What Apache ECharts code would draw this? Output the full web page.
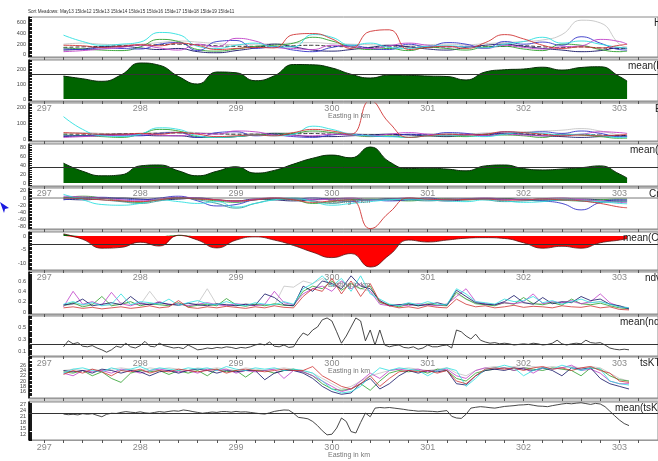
<!DOCTYPE html>
<html><head><meta charset="utf-8">
<script src="https://cdn.jsdelivr.net/npm/echarts@6/dist/echarts.min.js"></script>
<style>html,body{margin:0;padding:0;background:#fff}#c{width:658px;height:461px}</style>
</head><body><div id="c"></div><script>
// ---------- tick labels ----------
const xTickLabels = [297,298,299,300,301,302,303];
const hTicks = [0,200,400,600];
const mhTicks = [0,100,200];
const eTicks = [0,100,200];
const meTicks = [0,20,40,60,80];
const cmTicks = [20,0,-20,-40,-60,-80];
const mcmTicks = [0,-5,-10];
const ndviTicks = [0,0.2,0.4,0.6];
const mndviTicks = [0.1,0.3,0.5];
const tsTicks = [14,16,18,20,22,24,26,28];
const mtsTicks = [12,15,18,21,24,27];
const panelNames = ["H","mean(H)","E","mean(E)","Cm","mean(Cm)","ndvi","mean(ndvi)","tsKTa","mean(tsKTa)"];
const titleText = "Sort Meadows: May13 15Ide12 15Ide13 15Ide14 15Ide15 15Ide16 15Ide17 15Ide18 15Ide19 15Ide11";

// ---------- x positions (km) ----------
const xSmooth = []; for (let i=0;i<30;i++) xSmooth.push(+(297.2+0.2*i).toFixed(2)); xSmooth.push(303.08);
const xNoisy = []; for (let i=0;i<60;i++) xNoisy.push(+(297.2+0.1*i).toFixed(2));
const xMean = []; for (let i=0;i<119;i++) xMean.push(+(297.2+0.05*i).toFixed(2));

// ---------- H ----------
const H_cyan = [370,250,180,200,240,420,380,160,120,180,220,150,150,380,330,180,220,140,120,160,170,150,130,200,250,330,220,260,200,140,130];
const H_red = [180,170,140,160,190,170,220,180,100,120,140,130,380,400,300,120,440,470,100,140,160,120,230,380,300,180,120,150,130,180,200];
const H_green = [130,110,90,80,150,290,250,100,70,110,160,180,220,330,260,150,100,120,80,140,120,90,150,160,110,80,200,180,100,60,70];
const H_blue = [110,100,130,120,110,200,230,80,250,270,120,150,90,60,140,180,120,100,200,150,230,200,120,250,200,240,180,340,220,100,90];
const H_magenta = [60,80,110,140,180,130,90,200,150,310,260,140,120,100,180,150,120,170,220,180,150,160,120,180,140,110,150,170,290,250,200];
const H_navy = [90,110,150,160,130,100,120,60,40,80,130,200,150,90,70,100,140,180,150,110,90,140,180,200,160,120,90,60,80,130,120];
const H_black = [140,150,160,170,180,190,200,190,170,160,160,150,170,180,160,150,140,150,150,140,150,160,150,160,170,150,140,150,130,120,120];
const H_gray = [200,220,200,190,200,230,260,240,210,190,200,210,220,230,210,200,190,180,170,190,200,190,210,230,250,280,380,650,600,200,150];
const meanH = [153,135,118,160,240,225,150,100,180,175,122,155,230,228,207,165,140,160,158,153,150,127,180,195,200,212,193,210,215,150,120];
const meanHLevel = 167;

// ---------- E ----------
const E_cyan = [140,60,20,15,30,70,60,20,10,15,25,20,30,80,60,30,20,15,10,20,25,20,15,30,40,35,25,30,20,10,10];
const E_red = [40,35,30,30,35,30,40,30,15,20,25,20,40,60,50,30,240,100,10,20,30,25,30,45,40,30,20,25,20,25,30];
const E_green = [25,20,15,10,30,60,50,15,10,15,25,30,35,50,40,25,15,20,10,20,20,15,25,25,20,10,30,25,15,5,5];
const E_blue = [20,20,25,20,20,35,40,10,40,45,20,25,15,10,25,30,20,15,30,25,40,35,20,45,40,45,35,50,35,15,15];
const E_magenta = [10,15,20,25,30,25,20,35,30,50,45,25,20,20,30,25,20,30,40,30,25,30,20,30,25,20,25,30,45,40,35];
const E_navy = [15,20,25,30,25,20,20,10,10,15,25,35,25,15,15,20,25,30,25,20,15,25,30,35,30,20,15,10,15,20,20];
const E_black = [30,30,30,32,34,36,38,35,32,30,30,28,32,34,30,28,26,28,28,26,28,30,28,30,32,28,26,28,25,22,22];
const E_gray = [35,40,35,30,35,40,45,40,35,30,35,38,40,42,38,35,30,30,28,32,35,32,38,42,45,50,55,65,50,25,20];
const meanE = [44,26,16,18,38,40,27,16,26,36,22,28,42,55,62,56,80,47,32,33,31,27,38,40,32,29,31,34,38,20,11];
const meanELevel = 35;

// ---------- Cm ----------
const Cm_cyan = [10,-5,-18,-20,-15,-5,-10,-15,-10,-25,-15,-5,0,-10,-20,-15,-10,-5,-3,-5,-8,-10,-5,-8,-12,-10,-5,-8,-10,-15,-16];
const Cm_red = [0,-2,-5,-8,-10,-5,0,-3,-5,-8,-5,0,-5,-12,-8,-5,-85,-40,0,-3,-5,-4,-3,-6,-5,-3,-5,-8,-15,-25,-27];
const Cm_green = [0,5,0,-8,-12,-5,0,-3,-8,-12,-5,-3,-5,-15,-10,-5,-3,-5,-8,-4,-2,-5,-3,-2,-5,-3,-6,-8,-5,-3,-3];
const Cm_blue = [-5,0,2,-2,-5,0,5,-8,-22,-18,-5,-2,-3,0,-5,-10,-5,-8,-5,0,-5,-3,-2,-5,-3,-8,-15,-33,-12,-5,-5];
const Cm_magenta = [5,3,0,-5,-8,-3,2,0,-5,-10,-3,0,-2,-5,-3,0,-5,-3,0,-5,-3,-2,0,-3,-5,-2,0,-5,-8,-12,-13];
const Cm_navy = [-3,-5,-2,0,-3,-5,-3,0,-5,-8,-3,-5,-8,-5,-2,-3,-5,-2,-3,-5,-8,-5,-3,-2,-5,-8,-5,-3,-5,-8,-8];
const Cm_teal = [2,0,-5,-10,-15,-8,0,-5,-15,-28,-15,-5,-3,-8,-15,-8,-5,-3,-5,-8,-5,-3,-5,-10,-8,-5,-3,-8,-12,-10,-10];
const meanCm = [0.8,-1.2,-4.5,-4.2,-2.3,-3.7,0.3,-1.5,-4.4,-1.5,-0.3,-1.5,-3.5,-6,-8,-6.5,-11.5,-7,-1.5,-2.2,-1.5,-0.8,-0.6,-0.9,-2.5,-4.5,-3.8,-4.5,-2.5,-1.5,-1];
const meanCmLevel = -3;

// ---------- ndvi ----------
const N_red = [0.08,0.10,0.07,0.09,0.06,0.08,0.10,0.07,0.09,0.12,0.08,0.10,0.22,0.09,0.07,0.10,0.08,0.11,0.09,0.07,0.10,0.08,0.12,0.09,0.08,0.30,0.45,0.40,0.65,0.35,0.60,0.30,0.55,0.20,0.12,0.08,0.10,0.07,0.12,0.09,0.08,0.25,0.15,0.10,0.12,0.08,0.10,0.13,0.09,0.11,0.10,0.08,0.12,0.10,0.09,0.12,0.08,0.10,0.05,0.04];
const N_cyan = [0.15,0.20,0.14,0.18,0.12,0.15,0.35,0.14,0.20,0.18,0.15,0.25,0.13,0.18,0.22,0.16,0.14,0.20,0.15,0.12,0.18,0.15,0.14,0.20,0.15,0.45,0.55,0.70,0.50,0.65,0.40,0.70,0.35,0.25,0.15,0.12,0.18,0.14,0.20,0.15,0.14,0.45,0.35,0.20,0.18,0.15,0.25,0.20,0.22,0.30,0.18,0.22,0.15,0.20,0.25,0.18,0.20,0.15,0.10,0.08];
const N_green = [0.12,0.18,0.10,0.14,0.30,0.12,0.15,0.20,0.12,0.16,0.14,0.12,0.18,0.10,0.13,0.15,0.12,0.26,0.14,0.11,0.15,0.12,0.16,0.13,0.12,0.40,0.50,0.45,0.60,0.42,0.55,0.45,0.50,0.18,0.14,0.10,0.15,0.12,0.16,0.13,0.12,0.38,0.25,0.16,0.14,0.12,0.18,0.15,0.28,0.16,0.14,0.18,0.13,0.25,0.16,0.14,0.17,0.12,0.08,0.06];
const N_navy = [0.14,0.16,0.25,0.12,0.15,0.18,0.14,0.30,0.16,0.14,0.18,0.15,0.13,0.17,0.14,0.12,0.16,0.14,0.12,0.15,0.13,0.35,0.28,0.14,0.12,0.50,0.40,0.60,0.55,0.45,0.70,0.50,0.45,0.22,0.12,0.14,0.16,0.12,0.14,0.18,0.13,0.42,0.30,0.18,0.15,0.14,0.20,0.32,0.18,0.15,0.28,0.16,0.20,0.18,0.30,0.22,0.25,0.15,0.12,0.06];
const N_magenta = [0.10,0.40,0.15,0.20,0.13,0.38,0.16,0.12,0.18,0.14,0.20,0.14,0.16,0.12,0.15,0.18,0.14,0.12,0.16,0.14,0.12,0.15,0.40,0.18,0.14,0.35,0.45,0.50,0.40,0.60,0.45,0.55,0.40,0.15,0.12,0.14,0.12,0.16,0.14,0.12,0.15,0.30,0.45,0.20,0.16,0.14,0.18,0.16,0.20,0.35,0.16,0.20,0.18,0.22,0.16,0.20,0.35,0.18,0.10,0.07];
const N_gray = [0.12,0.15,0.13,0.16,0.14,0.13,0.18,0.15,0.14,0.40,0.16,0.15,0.14,0.13,0.16,0.45,0.14,0.15,0.13,0.16,0.15,0.14,0.13,0.50,0.48,0.60,0.55,0.65,0.50,0.60,0.50,0.45,0.40,0.20,0.15,0.14,0.16,0.15,0.14,0.13,0.16,0.35,0.25,0.18,0.16,0.15,0.17,0.16,0.18,0.17,0.16,0.18,0.17,0.20,0.16,0.18,0.20,0.16,0.12,0.08];
const meanNdvi = [0.17,0.27,0.22,0.24,0.18,0.17,0.19,0.15,0.12,0.08,0.12,0.18,0.16,0.23,0.17,0.15,0.19,0.26,0.18,0.17,0.23,0.19,0.17,0.15,0.16,0.14,0.20,0.16,0.12,0.13,0.15,0.14,0.16,0.15,0.17,0.16,0.14,0.16,0.15,0.17,0.20,0.22,0.20,0.25,0.18,0.17,0.20,0.16,0.17,0.30,0.40,0.36,0.45,0.50,0.62,0.65,0.60,0.42,0.23,0.35,0.50,0.65,0.60,0.27,0.45,0.20,0.45,0.20,0.17,0.19,0.20,0.16,0.15,0.17,0.13,0.15,0.20,0.17,0.17,0.19,0.20,0.15,0.45,0.42,0.35,0.30,0.38,0.28,0.25,0.23,0.24,0.22,0.23,0.22,0.20,0.21,0.22,0.21,0.23,0.22,0.20,0.21,0.23,0.28,0.22,0.20,0.22,0.23,0.22,0.28,0.24,0.23,0.24,0.20,0.15,0.13,0.12,0.13,0.12];
const meanNdviLevel = 0.22;

// ---------- tsKTa ----------
const T_red = [22.5,24,23,24.5,23.5,22,24,23.5,24.5,23,24,23.5,24.5,24,23.5,24,24.5,23,24,24.5,24,23.5,24,24.5,24,24,25.5,22,20,18,17,19,22,18,21,23.5,24,23.5,24,23,24,20,19,22,24.5,25,24.5,25,24,25,25.5,24.5,25,24,25,25.5,24,23,20,19.5];
const T_cyan = [23,24.5,25,24,23.5,25,24,24.5,25.5,24,25,24.5,24,25,24.5,25,24,25.5,24.5,24,25,24.5,25,24,24.5,24,23,20,17,15.5,16,18,22,25,24,25,24.5,24,22,24,25,24,18,21,24.5,25,26,25,22,24,25,24.5,26,25,24,25,24.5,20,19,18.5];
const T_green = [23.5,23,24,22,23.5,21,19.5,23,24,23.5,24,22.5,24,23,24,22,24.5,23.5,24,21.5,24,24,23,24,24.5,23.5,22,19,17,16.5,17,19,16.5,20,23,24,23.5,24,23,24.5,24,21,20,23,24,24.5,25,24,25,24.5,24,25,24.5,24,22,25,24.5,22,20.5,20];
const T_navy = [24,23.5,24,23,24.5,24,23,24,23.5,22,23.5,24,23,24,24.5,24,23,24,23.5,24,24,20.5,23,24,24,23,21,18,16,15,15.5,19,21,17,19,22,24,23,24,23.5,24,19,18.5,22,24,24.5,24,25,24.5,24,25,24,22,25,24.5,25,21,19,18,17];
const T_magenta = [23,22,24,23.5,24,23,24.5,24,23,24,24.5,24,23.5,24,23,24.5,24,24.5,23,24,23.5,24,24.5,21,24,23.5,22,20,18,16,17,20,23,21,24,24.5,24,24.5,23.5,24,24.5,22,21,24,25,24.5,25,24,25,23,25,24.5,25,26,24,24.5,23,20,19,19];
const T_gray = [24,24.5,24,24.5,24,24.5,25,24.5,24,25,24.5,25,24.5,24,25,24.5,25,24.5,24,25,24.5,24,24.5,25,24.5,24,23,21,19,17,18,20,22,23,24,24.5,25,24.5,24,24.5,25,23,22,24,25,25.5,25,25.5,25,25.5,25,25.5,25,25.5,25,25.5,25,23,21,20];
const meanTs = [22.1,21.8,22.0,21.7,22.3,22.0,22.3,21.5,20.8,22.0,22.5,22.4,22.9,23.3,23.0,22.8,23.2,22.7,22.5,22.9,23.3,23.0,23.4,23.7,23.5,24.1,23.8,23.3,22.9,22.5,22.8,23.1,22.9,23.3,23.3,23.0,23.4,23.1,23.2,22.9,22.6,22.3,22.1,22.7,23.4,23.8,24.1,24.0,22.5,20.5,20.2,19.8,18.5,16.5,14.0,12.0,12.3,15.3,20.2,18.5,13.6,12.9,18.0,22.6,20.8,25.0,25.3,25.1,25.3,25.0,24.7,24.4,24.0,23.8,23.5,23.6,23.5,23.4,23.2,23.5,23.8,21.0,20.2,20.0,22.0,25.0,25.4,25.7,25.5,25.2,25.0,25.4,25.8,26.0,26.2,26.5,26.6,26.8,26.4,26.0,25.9,25.7,26.2,26.6,27.0,27.3,27.1,27.4,27.6,27.2,26.8,27.3,27.0,25.7,23.5,21.3,19.2,17.5,16.5];
const meanTsLevel = 22.6;

// ---------- layout ----------
const C = {cyan:'#2fe0e0', teal:'#3a9a9a', red:'#d03535', green:'#2ca02c', blue:'#3535c8', magenta:'#c040c8', navy:'#141466', black:'#222222', gray:'#c4c4c4'};
const GL = 29, GW = 630, XMIN = 296.84, XMAX = +(296.84 + 630/96).toFixed(4);
const panels = [
  {top:17,h:40,min:-40,max:710,lab:hTicks,step:25,xl:false},
  {top:60,h:41,min:-13,max:260,lab:mhTicks,step:10,xl:true},
  {top:103,h:38,min:-12.5,max:225,lab:eTicks,step:10,xl:false},
  {top:144,h:42,min:-6.7,max:86.7,lab:meTicks,step:4,xl:true},
  {top:188,h:41,min:-86,max:27.8,lab:cmTicks,step:4,xl:false},
  {top:232,h:38,min:-12.6,max:1.5,lab:mcmTicks,step:0.5,xl:true},
  {top:272,h:42,min:-0.039,max:0.774,lab:ndviTicks,step:0.02,xl:false},
  {top:316,h:40,min:0.017,max:0.683,lab:mndviTicks,step:0.02,xl:true},
  {top:357,h:41,min:13.6,max:29.1,lab:tsTicks,step:0.5,xl:false},
  {top:402,h:38,min:9.5,max:27.97,lab:mtsTicks,step:0.5,xl:true}
];
const xMinor = []; for (let i=0;i<=32;i++) xMinor.push(+(297+0.2*i).toFixed(2));
function dense(min,max,step){const a=[];const s=Math.ceil(min/step);const e=Math.floor(max/step);for(let k=s;k<=e;k++)a.push(+(k*step).toFixed(4));return a;}
const zip = (xs,vs)=>vs.map((v,i)=>[xs[i],v]);

const grid=[],xAxis=[],yAxis=[],series=[],graphic=[];
panels.forEach((p,i)=>{
  grid.push({left:GL,top:p.top,width:GW,height:p.h,show:true,borderColor:'#8a8a8a',borderWidth:1,backgroundColor:'#fff'});
  xAxis.push({gridIndex:i,type:'value',min:XMIN,max:XMAX,
    axisLine:{show:true,onZero:false,lineStyle:{color:'#999',width:1}},
    axisTick:{show:true,customValues:xMinor,length:3,lineStyle:{color:'#555'}},
    axisLabel:{show:p.xl,customValues:xTickLabels,fontSize:9,color:'#8a8a8a',margin:3,fontFamily:'Liberation Sans'},
    splitLine:{show:false}});
  yAxis.push({gridIndex:i,type:'value',min:p.min,max:p.max,
    axisLine:{show:true,lineStyle:{color:'#000',width:1.5}},
    axisTick:{show:true,inside:true,customValues:dense(p.min,p.max,p.step),length:3,lineStyle:{color:'#000',width:0.9}},
    axisLabel:{customValues:p.lab,fontSize:5.5,color:'#444',margin:3,fontFamily:'Liberation Sans'},
    splitLine:{show:false}});
});
function lines(gi,xs,list,smooth,w){
  list.forEach(([vals,col,dash])=>series.push({type:'line',xAxisIndex:gi,yAxisIndex:gi,data:zip(xs,vals),smooth:smooth,showSymbol:false,silent:true,
    lineStyle:{color:col,width:w,type:dash?'dashed':'solid',opacity:0.9}}));
}
function mark(v){return {silent:true,symbol:'none',label:{show:false},lineStyle:{color:'#333',width:1,type:'solid'},data:[{yAxis:v}]};}

lines(0,xSmooth,[[H_gray,C.gray],[H_black,C.black,true],[H_navy,C.navy],[H_green,C.green],[H_blue,C.blue],[H_magenta,C.magenta],[H_cyan,C.cyan],[H_red,C.red]],true,1);
series.push({type:'line',xAxisIndex:1,yAxisIndex:1,data:zip(xSmooth,meanH),smooth:true,showSymbol:false,silent:true,
  lineStyle:{color:'#0a2a0a',width:1},areaStyle:{color:'#006400',opacity:1},markLine:mark(meanHLevel)});
lines(2,xSmooth,[[E_gray,C.gray],[E_black,C.black,true],[E_navy,C.navy],[E_green,C.green],[E_blue,C.blue],[E_magenta,C.magenta],[E_cyan,C.cyan],[E_red,C.red]],true,1);
series.push({type:'line',xAxisIndex:3,yAxisIndex:3,data:zip(xSmooth,meanE),smooth:true,showSymbol:false,silent:true,
  lineStyle:{color:'#0a2a0a',width:1},areaStyle:{color:'#006400',opacity:1},markLine:mark(meanELevel)});
lines(4,xSmooth,[[Cm_navy,C.navy],[Cm_green,C.green],[Cm_blue,C.blue],[Cm_magenta,C.magenta],[Cm_teal,C.teal],[Cm_cyan,C.cyan],[Cm_red,C.red]],true,1);
series.push({type:'line',xAxisIndex:4,yAxisIndex:4,data:[[XMIN,0],[XMAX,0]],showSymbol:false,silent:true,lineStyle:{color:'#555',width:0.8}});
series.push({type:'line',xAxisIndex:5,yAxisIndex:5,data:zip(xSmooth,meanCm.map(v=>Math.max(v,0))),smooth:true,showSymbol:false,silent:true,
  lineStyle:{width:0},areaStyle:{color:'#006400',opacity:1}});
series.push({type:'line',xAxisIndex:5,yAxisIndex:5,data:zip(xSmooth,meanCm.map(v=>Math.min(v,0))),smooth:true,showSymbol:false,silent:true,
  lineStyle:{width:0},areaStyle:{color:'#ff0000',opacity:1}});
series.push({type:'line',xAxisIndex:5,yAxisIndex:5,data:zip(xSmooth,meanCm),smooth:true,showSymbol:false,silent:true,
  lineStyle:{color:'#5a1010',width:0.8},markLine:mark(meanCmLevel)});
lines(6,xNoisy,[[N_gray,C.gray],[N_green,C.green],[N_magenta,C.magenta],[N_navy,C.navy],[N_cyan,C.cyan],[N_red,C.red]],false,0.9);
series.push({type:'line',xAxisIndex:7,yAxisIndex:7,data:zip(xMean,meanNdvi),showSymbol:false,silent:true,
  lineStyle:{color:'#333',width:0.9},markLine:mark(meanNdviLevel)});
lines(8,xNoisy,[[T_gray,C.gray],[T_green,C.green],[T_magenta,C.magenta],[T_navy,C.navy],[T_cyan,C.cyan],[T_red,C.red]],false,0.9);
series.push({type:'line',xAxisIndex:9,yAxisIndex:9,data:zip(xMean,meanTs),showSymbol:false,silent:true,
  lineStyle:{color:'#333',width:0.9},markLine:mark(meanTsLevel)});

// gray bands between panels
for (let i=0;i<panels.length-1;i++){
  const y0 = panels[i].top+panels[i].h, y1 = panels[i+1].top;
  graphic.push({type:'rect',shape:{x:GL,y:y0,width:658-GL,height:Math.max(y1-y0,1)},style:{fill:'#d2d2d2'},silent:true,z:-1});
}
// right-side panel names
const nameX = [654,628,655,630,649,623,645,620,640,615];
panels.forEach((p,i)=>graphic.push({type:'text',left:nameX[i],top:p.top+1,silent:true,z:10,
  style:{text:panelNames[i],fontSize:10,fill:'#222',fontFamily:'Liberation Sans'}}));
// axis names
panels.forEach((p,i)=>{ if(p.xl) graphic.push({type:'text',left:328,top:p.top+p.h+12,silent:true,z:10,
  style:{text:'Easting in km',fontSize:7,fill:'#777',fontFamily:'Liberation Sans'}}); });
graphic.push({type:'text',left:28,top:9,silent:true,style:{text:titleText,fontSize:4.6,fill:'#333',fontFamily:'Liberation Sans'}});
graphic.push({type:'polygon',shape:{points:[[0,202],[9,208],[5,209],[4,213]]},style:{fill:'#1a1ae0'},silent:true});

const chart = echarts.init(document.getElementById('c'),null,{renderer:'canvas'});
chart.setOption({animation:false,backgroundColor:'#fff',grid,xAxis,yAxis,series,graphic});
</script></body></html>
